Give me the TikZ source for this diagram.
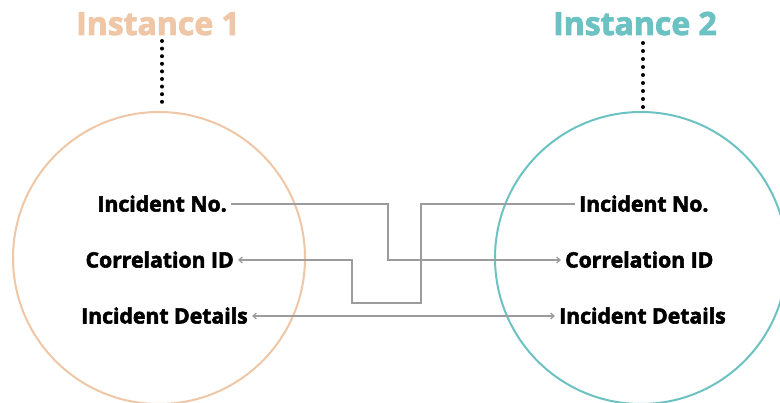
\documentclass[tikz,border=0pt]{standalone}
\usepackage{fontspec}
\setmainfont{Open Sans}
\newfontfamily\heavy{Open Sans}[UprightFont=*-Bold, UprightFeatures={FakeBold=2.5}]
\usetikzlibrary{arrows.meta}
\definecolor{peach}{HTML}{EFC7A6}
\definecolor{teal2}{HTML}{6CC2C2}
\definecolor{linegray}{HTML}{9C9C9C}
\tikzset{
  title/.style={font=\fontsize{32}{32}\heavy, inner sep=0pt, anchor=base},
  field/.style={font=\fontsize{21.2}{21.2}\heavy, inner xsep=4pt, inner ysep=0pt,
                text height=15pt, text depth=0pt},
  ring/.style={circle, draw, line width=2pt, minimum size=292pt, inner sep=0pt},
  conn/.style={draw=linegray, line width=1.2pt, arrows={-Straight Barb[length=3.5pt,width=6pt]}},
  dot/.style={fill=black}
}
\begin{document}
\begin{tikzpicture}[x=1pt,y=-1pt]
\useasboundingbox (0,0) rectangle (780,403);
\clip (0,0) rectangle (780,403);
\fill[white] (0,0) rectangle (780,403);

% titles
\node[title, text=peach] (t1) at (158,35) {Instance 1};
\node[title, text=teal2] (t2) at (635,35) {Instance 2};

% dotted leaders
\foreach \i in {0,...,8} {
  \fill[dot] (162,41+7.6*\i) circle (2);
  \fill[dot] (643,43+8*\i) circle (2);
}

% instance circles
\node[ring, draw=peach] (c1) at (159,258) {};
\node[ring, draw=teal2] (c2) at (641,258) {};

% fields of instance 1
\node[field, anchor=east] (ln) at (231,204) {Incident No.};
\node[field, anchor=east] (lc) at (238,260) {Correlation ID};
\node[field, anchor=east] (ld) at (252,316) {Incident Details};

% fields of instance 2
\node[field, anchor=west] (rn) at (575,204) {Incident No.};
\node[field, anchor=west] (rc) at (561,260) {Correlation ID};
\node[field, anchor=west] (rd) at (555,316) {Incident Details};

% mappings
\draw[conn] (ln.east) -| (388,260) -- (rc.west);
\draw[conn] (rn.west) -| (421,303) -| (352,260) -- (lc.east);
\draw[conn, arrows={Straight Barb[length=3.5pt,width=6pt]-Straight Barb[length=3.5pt,width=6pt]}] (ld.east) -- (rd.west);
\end{tikzpicture}
\end{document}
